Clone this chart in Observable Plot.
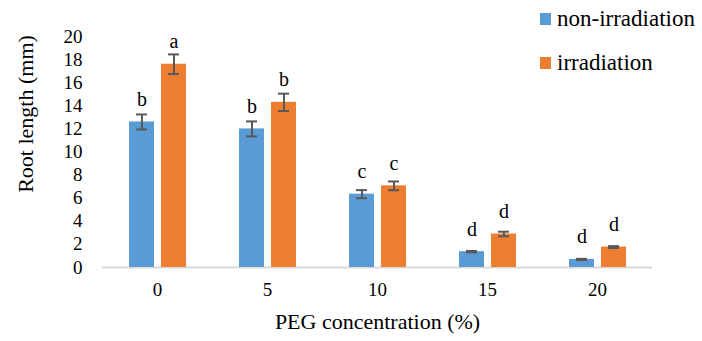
<!DOCTYPE html>
<html><head><meta charset="utf-8">
<script src="https://cdn.jsdelivr.net/npm/d3@7"></script>
<script src="https://cdn.jsdelivr.net/npm/@observablehq/plot@0.6"></script>
<style>
body{margin:0;background:#fff;}
#wrap{position:relative;width:702px;height:341px;}
#wrap, #wrap svg, #wrap svg text, #wrap div, #wrap span{font-family:"Liberation Serif","Times New Roman",serif !important;}
.legend{position:absolute;left:540px;top:0;font-size:23px;color:#000;}
.item{position:absolute;left:0;display:flex;align-items:center;white-space:nowrap;height:24px;}
.sw{width:11px;height:12px;margin-right:6px;flex:none;}
.ytitle{position:absolute;left:26px;top:114px;font-size:22px;color:#000;white-space:nowrap;transform:translate(-50%,-50%) rotate(-90deg);}
g[aria-label="fx-axis label"] text{font-size:22px;}
</style></head><body><div id="wrap"></div>
<script>
const concentrations = ["0", "5", "10", "15", "20"];
const seriesNames = ["non-irradiation", "irradiation"];
const nonIrradiation = [12.6, 12.0, 6.35, 1.37, 0.7];
const nonIrradiationErr = [0.65, 0.65, 0.35, 0.06, 0.05];
const irradiation = [17.6, 14.3, 7.07, 2.9, 1.77];
const irradiationErr = [0.85, 0.75, 0.38, 0.2, 0.08];
const lettersNon = ["b", "b", "c", "d", "d"];
const lettersIrr = ["a", "b", "c", "d", "d"];
const yTicks = [0, 2, 4, 6, 8, 10, 12, 14, 16, 18, 20];
const colors = ["#5B9BD5", "#ED7D31"];
const yTitle = "Root length (mm)";
const xTitle = "PEG concentration (%)";

const data = concentrations.flatMap((c, i) => [
  {conc: c, series: seriesNames[0], value: nonIrradiation[i], err: nonIrradiationErr[i], letter: lettersNon[i]},
  {conc: c, series: seriesNames[1], value: irradiation[i], err: irradiationErr[i], letter: lettersIrr[i]}
]);

const errColor = "#595959";
const plot = Plot.plot({
  width: 702, height: 341,
  marginLeft: 100, marginRight: 49, marginTop: 36, marginBottom: 74,
  style: {fontFamily: "'Liberation Serif', serif", fontSize: "19px", color: "#000", background: "#fff", overflow: "visible"},
  fx: {domain: concentrations, padding: 0},
  x: {domain: seriesNames, paddingInner: 0.22, paddingOuter: 0.82, axis: null},
  y: {domain: [0, 20]},
  color: {domain: seriesNames, range: colors},
  marks: [
    Plot.axisFx({anchor: "bottom", tickSize: 0, tickPadding: 15, label: xTitle, labelAnchor: "center", labelOffset: 61, labelArrow: "none", fontSize: 19}),
    Plot.axisY({ticks: yTicks, tickSize: 0, tickPadding: 20, label: null, fontSize: 19}),
    Plot.ruleY([0], {stroke: "#d9d9d9", strokeWidth: 2}),
    Plot.barY(data, {fx: "conc", x: "series", y: "value", fill: "series"}),
    Plot.ruleX(data, {fx: "conc", x: "series", y1: d => d.value - d.err, y2: d => d.value + d.err, stroke: errColor, strokeWidth: 2}),
    Plot.tickY(data, {fx: "conc", x: "series", y: d => d.value - d.err, stroke: errColor, strokeWidth: 2, insetLeft: 7, insetRight: 7}),
    Plot.tickY(data, {fx: "conc", x: "series", y: d => d.value + d.err, stroke: errColor, strokeWidth: 2, insetLeft: 7, insetRight: 7}),
    Plot.text(data, {fx: "conc", x: "series", y: "value", text: "letter", dy: -16, lineAnchor: "bottom", fontSize: 20})
  ]
});
const wrap = document.getElementById("wrap");
wrap.appendChild(plot);

const yt = document.createElement("div");
yt.className = "ytitle";
yt.textContent = yTitle;
wrap.appendChild(yt);

const legend = document.createElement("div");
legend.className = "legend";
const tops = [7, 51];
seriesNames.forEach((s, i) => {
  const it = document.createElement("div");
  it.className = "item";
  it.style.top = tops[i] + "px";
  const sw = document.createElement("span");
  sw.className = "sw";
  sw.style.background = colors[i];
  const tx = document.createElement("span");
  tx.textContent = s;
  it.appendChild(sw); it.appendChild(tx);
  legend.appendChild(it);
});
wrap.appendChild(legend);
</script></body></html>
